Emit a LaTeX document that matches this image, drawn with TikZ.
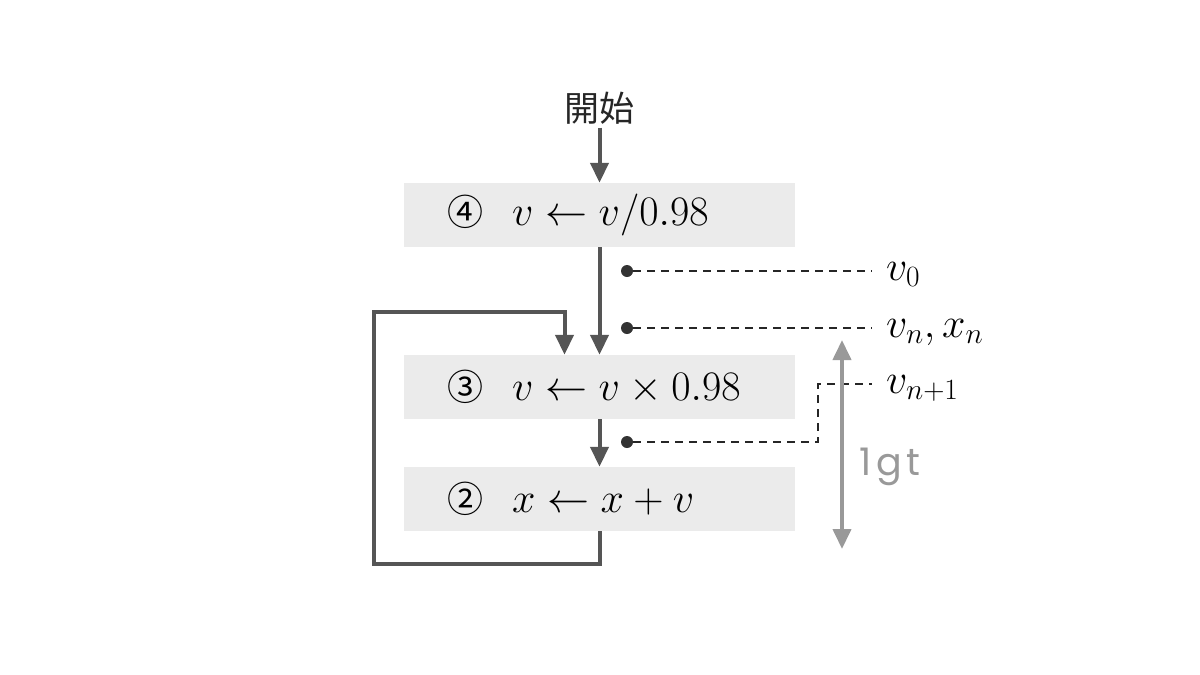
\RequirePackage{fix-cm}
\documentclass[tikz,border=0pt]{standalone}
\usepackage{fontspec}
\newfontfamily\cjk{Noto Sans CJK JP}
\newfontfamily\gtfont[LetterSpace=12]{Poppins}
\usetikzlibrary{arrows.meta,positioning}
\definecolor{linegray}{HTML}{555555}
\definecolor{boxgray}{HTML}{EBEBEB}
\definecolor{spangray}{HTML}{999999}
\newcommand{\stepno}[1]{{\cjk\fontsize{36}{40}\selectfont #1}\hspace{29pt}}

\begin{document}
\begin{tikzpicture} [
      x = 1pt, y = -1pt,
      stepbox/.style = { fill = boxgray, minimum width = 391pt, minimum height = 64pt,
                         inner xsep = 43pt, text width = 305pt, align = left,
                         font = \fontsize{42}{48}\selectfont },
      flow/.style = { draw = linegray, line width = 4pt, -{Triangle[width = 18pt, length = 20pt]} },
      tie/.style = { draw = black!85, line width = 2.6pt, dash pattern = on 8pt off 6pt },
      dot/.style = { circle, fill = black!80, inner sep = 0, minimum size = 12pt },
      lab/.style = { anchor = west, inner xsep = 14pt, text height = 18pt, text depth = 0pt,
                     font = \fontsize{42}{48}\selectfont }
      ]
    \useasboundingbox (0,0) rectangle (1200,675);

    \node [text = black!85, font = \cjk\fontsize{35}{40}\selectfont] (start) at (599.5,108) {開始};
    \node [stepbox] (s4) at (599.5,215) {\stepno{④}$v \leftarrow v/0.98$};
    \node [stepbox] (s3) at (599.5,387) {\stepno{③}$v \leftarrow v \times 0.98$};
    \node [stepbox] (s2) at (599.5,499) {\stepno{②}$x \leftarrow x + v$};

    \draw [flow] (start.south) -- (s4.north);
    \draw [flow] (s4.south) -- (s3.north);
    \draw [flow] (s3.south) -- (s2.north);
    \coordinate (back) at ([xshift = -35pt]s3.north);
    \draw [flow] (s2.south) -- ++(0,33) -| (374,312) -| (back);

    % values between the steps
    \node [dot] (d0) at (627,271) {};
    \node [dot] (d1) at (627,328) {};
    \node [dot] (d2) at (627,442) {};
    \node [lab] (v0) at (872,271) {$v_0$};
    \node [lab] (v1) at (872,328) {$v_n, x_n$};
    \node [lab] (v2) at (872,384) {$v_{n+1}$};
    \draw [tie] (d0) -- (v0.west);
    \draw [tie] (d1) -- (v1.west);
    \draw [tie] (d2) -- (818,442) |- (v2.west);

    % one step
    \coordinate (top) at (842,340);
    \coordinate (bottom) at (842,549);
    \draw [spangray, line width = 4pt, {Triangle[width = 18pt, length = 20pt]}-{Triangle[width = 18pt, length = 20pt]}] (top) -- (bottom);
    \node [spangray, anchor = west, font = \gtfont\fontsize{38}{40}\selectfont] (gt) at (856,467) {1gt};
\end{tikzpicture}
\end{document}
